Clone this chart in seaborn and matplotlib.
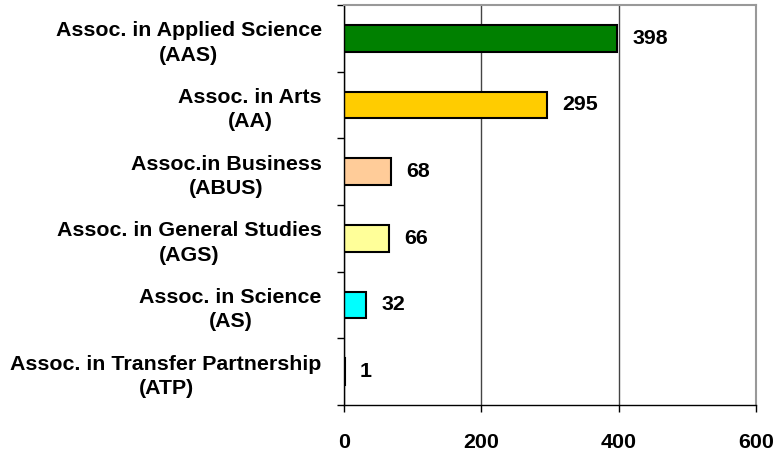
import numpy as np
import pandas as pd
import matplotlib
matplotlib.use("Agg")
import matplotlib.pyplot as plt
import seaborn as sns

# Data
degrees = [
    "Assoc. in Applied Science\n(AAS)",
    "Assoc. in Arts\n(AA)",
    "Assoc.in Business\n(ABUS)",
    "Assoc. in General Studies\n(AGS)",
    "Assoc. in Science\n(AS)",
    "Assoc. in Transfer Partnership\n(ATP)",
]
counts = [398, 295, 68, 66, 32, 1]
bar_colors = ["#008000", "#FFCC00", "#FFCC99", "#FFFF99", "#00FFFF", "#FFFFFF"]
x_ticks = [0, 200, 400, 600]

df = pd.DataFrame({"degree": degrees, "count": counts})

sns.set_style("white")
plt.rcParams["font.family"] = ["Liberation Sans", "DejaVu Sans"]
plt.rcParams["font.weight"] = "bold"
plt.rcParams["text.color"] = "black"
plt.rcParams["xtick.color"] = "black"
plt.rcParams["ytick.color"] = "black"

fs = 15.4

fig = plt.figure(figsize=(7.84, 4.53), dpi=100)
ax = fig.add_axes([344 / 784, 1 - 405 / 453, (756 - 344) / 784, 400 / 453])

sns.barplot(
    data=df, x="count", y="degree", hue="degree",
    palette=bar_colors, legend=False, width=0.4, saturation=1,
    edgecolor="black", linewidth=1.5, ax=ax,
)

ax.set_xlim(0, 600)
ax.set_ylim(5.5, -0.5)
ax.set_xticks(x_ticks)
ax.set_xticklabels([str(v) for v in x_ticks], fontsize=fs, fontweight="bold", color="black")
ax.set_xlabel("")
ax.set_ylabel("")

# vertical gridlines
ax.grid(axis="x", color="#444444", linewidth=1)
ax.set_axisbelow(True)

# category labels, centred multi-line
ax.set_yticks(range(len(degrees)))
ax.set_yticklabels(degrees, fontsize=fs, fontweight="bold", color="black")
for t in ax.get_yticklabels():
    t.set_multialignment("center")
    t.set_linespacing(1.35)
ax.tick_params(axis="y", which="major", length=0, pad=16)
ax.set_yticks(np.arange(-0.5, len(degrees)), minor=True)
ax.tick_params(axis="y", which="minor", length=5, width=1, color="black", direction="out", left=True)
ax.tick_params(axis="x", length=5, width=1, color="black", direction="out", bottom=True, pad=15)

for side in ["left", "bottom"]:
    ax.spines[side].set_color("black")
    ax.spines[side].set_linewidth(1)
for side in ["top", "right"]:
    ax.spines[side].set_color("#999999")
    ax.spines[side].set_linewidth(1.5)

# value labels
for i, v in enumerate(counts):
    ax.annotate(str(v), xy=(v, i), xytext=(11, 0), textcoords="offset points",
                va="center", ha="left", fontsize=fs, fontweight="bold", color="black")

fig.savefig("out.png", dpi=100)
